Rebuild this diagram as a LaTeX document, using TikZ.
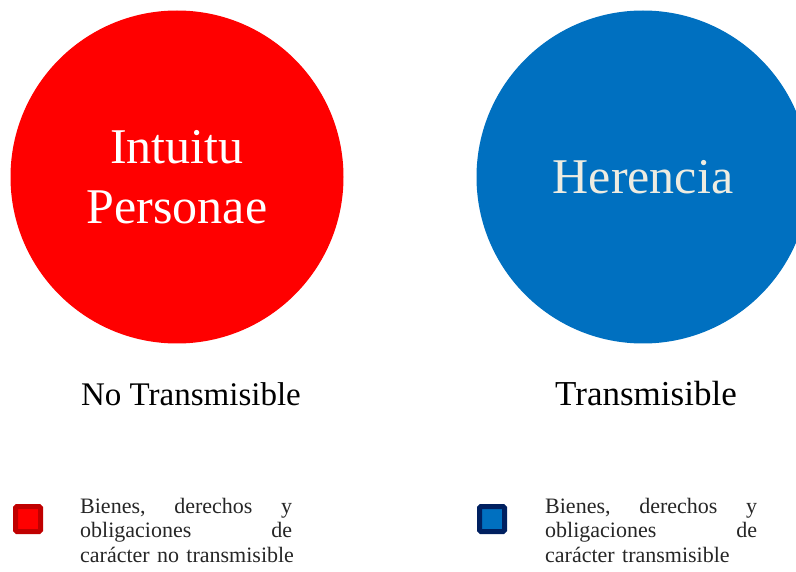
\documentclass[tikz,border=0pt]{standalone}
\usepackage{fontspec}
\setmainfont{Liberation Serif}
\usepackage{tikz}

\definecolor{rojo}{HTML}{FF0000}
\definecolor{rojooscuro}{HTML}{C00000}
\definecolor{azul}{HTML}{0070C0}
\definecolor{azuloscuro}{HTML}{002060}
\definecolor{crema}{HTML}{EEECE1}

\begin{document}
\begin{tikzpicture}[x=1pt,y=-1pt]
        \useasboundingbox (0,0) rectangle (796,572);
        \clip (0,0) rectangle (796,572);
        \tikzstyle{bola}=[shape=circle,minimum size=333pt,inner sep=0pt,align=center,
            font=\fontsize{50}{60}\selectfont]
        \tikzstyle{etiqueta}=[inner sep=0pt,anchor=base,font=\fontsize{33}{38}\selectfont]
        \tikzstyle{caja}=[line width=5pt,rounded corners=1.5pt]
        \tikzstyle{leyenda}=[inner sep=0pt,anchor=base west,text width=212pt,align=left,
            text=black!85,font=\fontsize{22}{24.5}\selectfont]

            \node[bola,fill=rojo,text=white] (ip) at (177,177) {Intuitu\\Personae};
            \node[bola,fill=azul,text=crema] (her) at (643,177) {Herencia};

            \node[etiqueta] (nt) at (191,405) {No Transmisible};
            \node[etiqueta,font=\fontsize{35}{40}\selectfont] (t) at (646,405) {Transmisible};

            \draw[caja,draw=rojooscuro,fill=rojo] (15.5,506.5) rectangle (40.5,531.5);
            \draw[caja,draw=azuloscuro,fill=azul] (479.5,506.5) rectangle (504.5,531.5);

            \node[leyenda] (lr) at (80,513) {Bienes,\hfill derechos\hfill y\\
                obligaciones\hfill de\\ \mbox{carácter no transmisible}};
            \node[leyenda] (la) at (545,513) {Bienes,\hfill derechos\hfill y\\
                obligaciones\hfill de\\ \mbox{carácter transmisible}};
        \end{tikzpicture}
\end{document}
